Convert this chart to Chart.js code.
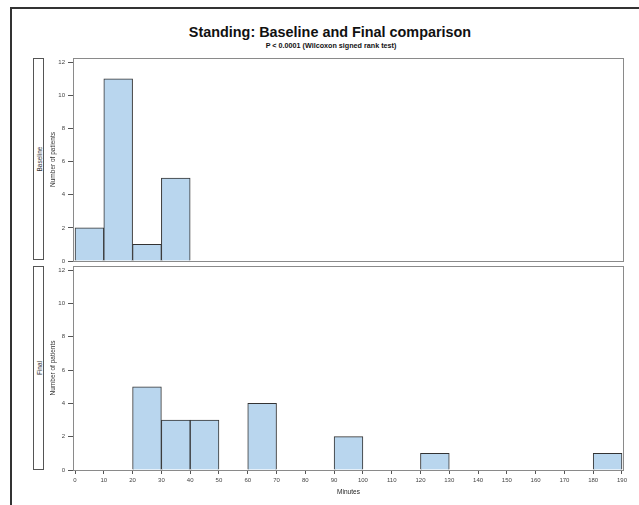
<!DOCTYPE html>
<html>
<head>
<meta charset="utf-8">
<script src="https://cdn.jsdelivr.net/npm/chart.js@4/dist/chart.umd.min.js"></script>
<style>
  html, body { margin: 0; padding: 0; background: #fff; }
  body { width: 639px; height: 505px; position: relative; overflow: hidden; font-family: "Liberation Sans", Arial, sans-serif; }
  .outer { position: absolute; left: 10px; top: 7px; width: 640px; height: 497px; border-top: 2px solid #333; border-left: 2px solid #333; }
  .title { position: absolute; left: 0; width: 660px; top: 24px; text-align: center; font-weight: bold; font-size: 14.4px; color: #111; }
  .subtitle { position: absolute; left: 0; width: 662px; top: 41px; text-align: center; font-weight: bold; font-size: 7.2px; color: #111; }
  .strip { position: absolute; left: 33px; width: 9px; border: 1px solid #555; background: #fff; }
  .strip span { position: absolute; left: 50%; top: 50%; transform: translate(-50%, -50%) rotate(-90deg); font-size: 6.5px; color: #333; white-space: nowrap; }
  canvas { position: absolute; }
</style>
</head>
<body>
<div class="outer"></div>
<div class="title">Standing: Baseline and Final comparison</div>
<div class="subtitle">P &lt; 0.0001 (Wilcoxon signed rank test)</div>
<div class="strip" style="top:58px;height:200px;"><span>Baseline</span></div>
<div class="strip" style="top:266px;height:202px;"><span>Final</span></div>
<canvas id="top" width="599" height="213" style="left:40px;top:50px;"></canvas>
<canvas id="bottom" width="599" height="243" style="left:40px;top:262px;"></canvas>
<script>
// Histogram bins (left edges, minutes) and patient counts per panel
const binWidth = 10;
const baselineBins = [0, 10, 20, 30];
const baselineCounts = [2, 11, 1, 5];
const finalBins = [20, 30, 40, 60, 90, 120, 180];
const finalCounts = [5, 3, 3, 4, 2, 1, 1];

// Axis ticks
const xTicks = [0, 10, 20, 30, 40, 50, 60, 70, 80, 90, 100, 110, 120, 130, 140, 150, 160, 170, 180, 190];
const yTicks = [0, 2, 4, 6, 8, 10, 12];

const FONT = "'Liberation Sans', Arial, sans-serif";
const barFill = '#b9d6ee';
const barEdge = '#333333';
const frameColor = '#8a8a8a';

// Box around the plotting region of each panel
const panelFrame = {
  id: 'panelFrame',
  afterDraw(chart) {
    const { ctx, chartArea: a } = chart;
    ctx.save();
    ctx.strokeStyle = frameColor;
    ctx.lineWidth = 1;
    ctx.strokeRect(Math.round(a.left) + 0.5, Math.round(a.top) + 0.5,
                   Math.round(a.right - a.left) - 1, Math.round(a.bottom - a.top));
    ctx.restore();
  }
};

function toPoints(bins, counts) {
  return bins.map((b, i) => ({ x: b + binWidth / 2, y: counts[i] }));
}

function makeChart(id, bins, counts, showX, padding) {
  return new Chart(document.getElementById(id), {
    type: 'bar',
    data: {
      datasets: [{
        data: toPoints(bins, counts),
        backgroundColor: barFill,
        borderColor: barEdge,
        borderWidth: 1,
        barPercentage: 1,
        categoryPercentage: 1
      }]
    },
    options: {
      responsive: false,
      animation: false,
      layout: { padding },
      plugins: { legend: { display: false }, tooltip: { enabled: false } },
      scales: {
        x: {
          type: 'linear',
          offset: false,
          min: -0.7,
          max: 190.7,
          afterBuildTicks(scale) { scale.ticks = xTicks.map(v => ({ value: v })); },
          afterFit(scale) {
            scale.height = showX ? 35 : 0;
            scale.paddingLeft = scale.paddingRight = scale.paddingTop = scale.paddingBottom = 0;
          },
          border: { display: false },
          grid: { display: showX, offset: false, drawOnChartArea: false, drawTicks: true, tickLength: 4, color: '#555' },
          ticks: { display: showX, padding: 3, maxRotation: 0, autoSkip: false, color: '#444', font: { family: FONT, size: 6 } },
          title: { display: showX, text: 'Minutes', color: '#222', font: { family: FONT, size: 6.5 }, padding: { top: 0, bottom: 9 } }
        },
        y: {
          min: 0,
          max: 12.25,
          afterBuildTicks(scale) { scale.ticks = yTicks.map(v => ({ value: v })); },
          afterFit(scale) {
            scale.width = 33;
            scale.paddingLeft = scale.paddingRight = scale.paddingTop = scale.paddingBottom = 0;
          },
          border: { display: false },
          grid: { drawOnChartArea: false, drawTicks: true, tickLength: 5, color: '#555' },
          ticks: { padding: 3, color: '#444', font: { family: FONT, size: 6 } },
          title: { display: true, text: 'Number of patients', color: '#333', font: { family: FONT, size: 6.5 }, padding: { top: 9, bottom: 0 } }
        }
      }
    },
    plugins: [panelFrame]
  });
}

makeChart('top', baselineBins, baselineCounts, false, { left: 0, right: 15, top: 8, bottom: 2 });
makeChart('bottom', finalBins, finalCounts, true, { left: 0, right: 15, top: 4, bottom: 0 });
</script>
</body>
</html>
